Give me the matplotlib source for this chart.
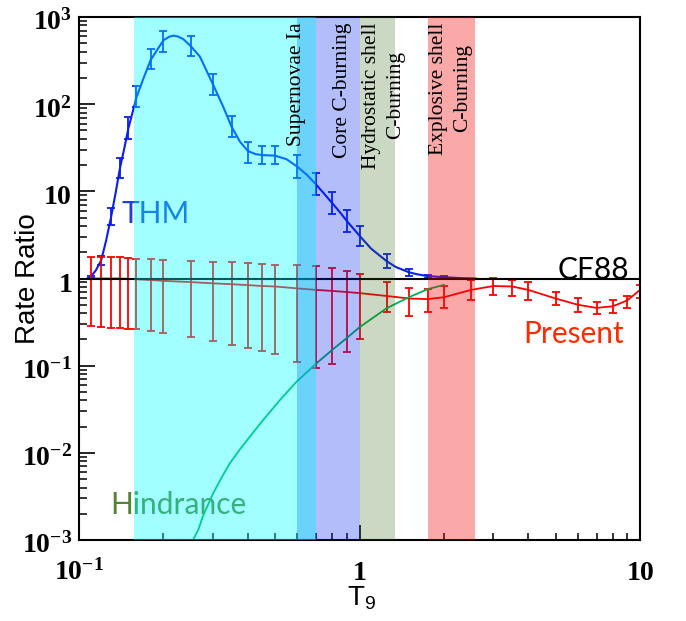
import matplotlib
matplotlib.use("Agg")
import matplotlib.pyplot as plt
import matplotlib.transforms as mtransforms
from matplotlib.ticker import FixedLocator, LogLocator, FuncFormatter, NullFormatter
import math

plt.rcParams['mathtext.fontset'] = 'custom'
plt.rcParams['mathtext.rm'] = 'Liberation Serif:bold'
plt.rcParams['mathtext.bf'] = 'Liberation Serif:bold'
plt.rcParams['mathtext.it'] = 'Liberation Serif:bold'
plt.rcParams['mathtext.sf'] = 'Liberation Sans'

# THM points (T9, ratio to CF88, multiplicative error)
thm_t = [0.11, 0.12, 0.13, 0.14, 0.15, 0.16, 0.18, 0.2, 0.25, 0.3, 0.35, 0.4,
         0.45, 0.5, 0.6, 0.7, 0.8, 0.9, 1.0, 1.25, 1.5, 1.75, 2.0]
thm_ratio = [1.04, 1.6, 5.1, 18.5, 53, 121, 330, 521, 465, 169, 55, 28,
             26, 26, 19.2, 12.1, 7.3, 4.58, 3.08, 1.59, 1.18, 1.06, 1.035]
thm_err = [1.02, 1.12, 1.25, 1.30, 1.33, 1.32, 1.31, 1.31, 1.31, 1.32, 1.32, 1.31,
           1.27, 1.27, 1.36, 1.34, 1.34, 1.33, 1.30, 1.19, 1.10, 1.035, 1.02]

# THM fitted curve
thm_curve_t = [0.107, 0.11, 0.112, 0.115, 0.12, 0.125, 0.13, 0.135, 0.14, 0.145, 0.15,
               0.155, 0.16, 0.17, 0.18, 0.19, 0.2, 0.21, 0.217, 0.225, 0.235, 0.25,
               0.27, 0.3, 0.325, 0.35, 0.375, 0.4, 0.425, 0.45, 0.5, 0.55, 0.6, 0.65,
               0.7, 0.75, 0.8, 0.85, 0.9, 0.95, 1.0, 1.1, 1.25, 1.35, 1.5, 1.6, 1.75,
               2.0, 2.3, 2.6]
thm_curve_r = [1.0, 1.04, 1.12, 1.25, 1.62, 2.75, 5.0, 9.5, 18.5, 31, 53,
               79, 118, 200, 320, 420, 540, 595, 611, 598, 560, 465,
               350, 170, 97, 55, 37, 29, 26.8, 26, 25.7, 23.3, 19.2, 15.4,
               12.0, 9.3, 7.3, 5.8, 4.6, 3.75, 3.1, 2.2, 1.58, 1.35, 1.18, 1.12, 1.065,
               1.035, 1.01, 1.0]

# Present work
present_t = [0.11, 0.12, 0.13, 0.14, 0.15, 0.16, 0.18, 0.2, 0.25, 0.3, 0.35, 0.4,
             0.45, 0.5, 0.6, 0.7, 0.8, 0.9, 1.0, 1.25, 1.5, 1.75, 2.0, 2.5, 3.0,
             3.5, 4.0, 5.0, 6.0, 7.0, 8.0, 9.0, 10.0]
present_ratio = [1.0, 1.0, 1.0, 1.0, 0.99, 0.98, 0.96, 0.94, 0.91, 0.88, 0.86, 0.84,
                 0.82, 0.81, 0.77, 0.74, 0.72, 0.70, 0.68, 0.63, 0.59, 0.58, 0.61, 0.74, 0.82,
                 0.81, 0.74, 0.59, 0.50, 0.46, 0.48, 0.56, 0.74]
present_lo = [0.286, 0.281, 0.273, 0.269, 0.264, 0.262, 0.251, 0.240, 0.212, 0.192, 0.173, 0.159,
              0.148, 0.135, 0.110, 0.095, 0.104, 0.143, 0.201, 0.417, 0.372, 0.417, 0.456, 0.569, 0.648,
              0.637, 0.569, 0.498, 0.417, 0.390, 0.400, 0.456, 0.60]
present_hi = [1.78, 1.78, 1.75, 1.75, 1.71, 1.68, 1.67, 1.63, 1.60, 1.56, 1.54, 1.52,
              1.47, 1.44, 1.43, 1.39, 1.31, 1.23, 1.13, 0.92, 0.77, 0.75, 0.81, 0.96, 1.01,
              0.96, 0.91, 0.70, 0.60, 0.54, 0.57, 0.63, 0.84]

# Hindrance model
hind_t = [0.255, 0.267, 0.277, 0.301, 0.323, 0.345, 0.375, 0.407, 0.454, 0.521, 0.597,
          0.713, 0.8, 0.9, 1.0, 1.25, 1.5, 1.75, 2.0]
hind_r = [0.001, 0.00134, 0.0019, 0.00345, 0.00526, 0.0076, 0.011, 0.0154, 0.0239, 0.0405,
          0.0657, 0.111, 0.152, 0.207, 0.276, 0.456, 0.61, 0.754, 0.845]

# temperature ranges of the burning sites
band_lo = [0.157, 0.6, 0.7, 1.0, 1.75]
band_hi = [0.6, 0.7, 1.0, 1.34, 2.58]
band_colors = ['#00ffff', '#00b4f8', '#0026ee', '#306410', '#f30606']
band_alpha = [0.37, 0.58, 0.30, 0.25, 0.35]
band_names = ['', 'Supernovae Ia', 'Core C-burning', 'Hydrostatic shell\nC-burning',
              'Explosive shell\nC-burning']
band_text_t = [None, 0.594, 0.871, 1.22, 2.11]

fig = plt.figure(figsize=(6.86, 6.21), dpi=100)
ax = fig.add_axes([79 / 686, 81 / 621, 561 / 686, 523 / 621])
ax.set_xscale('log')
ax.set_yscale('log')
ax.set_xlim(0.1, 10)
ax.set_ylim(1e-3, 1e3)

thm_lower = [r - r / f for r, f in zip(thm_ratio, thm_err)]
thm_upper = [r * f - r for r, f in zip(thm_ratio, thm_err)]
ax.plot(thm_curve_t, thm_curve_r, color='#0a1ef0', lw=1.5, zorder=2)
ax.errorbar(thm_t, thm_ratio, yerr=[thm_lower, thm_upper], fmt='none', ecolor='#0a1ef0',
            elinewidth=1.3, capsize=3, capthick=1.3, zorder=2)

pres_lower = [r - lo for r, lo in zip(present_ratio, present_lo)]
pres_upper = [hi - r for r, hi in zip(present_ratio, present_hi)]
ax.plot(present_t, present_ratio, color='#ff0000', lw=1.3, zorder=2)
ax.errorbar(present_t, present_ratio, yerr=[pres_lower, pres_upper], fmt='none',
            ecolor='#ff0000', elinewidth=1.3, capsize=3, capthick=1.3, zorder=2)

ax.plot(hind_t, hind_r, color='#00b050', lw=1.3, zorder=2)

ax.axhline(1.0, color='black', lw=1.5, zorder=2.2)

for lo, hi, c, a in zip(band_lo, band_hi, band_colors, band_alpha):
    ax.axvspan(lo, hi, color=c, alpha=a, lw=0, zorder=3)

trans = mtransforms.blended_transform_factory(ax.transData, ax.transAxes)
for name, t in zip(band_names, band_text_t):
    if name:
        ax.text(t, 0.99, name, transform=trans, rotation=90, ha='center', va='top',
                multialignment='center', linespacing=1.35, fontsize=15.5,
                family='Liberation Serif', zorder=4)

lab = dict(fontsize=21.5, family='Lato', zorder=2.3, va='baseline')
ax.text(0.0761, 0.606, 'THM', color='#1f3fd8', transform=ax.transAxes, ha='left', **lab)
ax.text(0.980, 0.499, 'CF88', color='black', transform=ax.transAxes, ha='right', **lab)
ax.text(0.9715, 0.376, 'Present', color='#ff2a00', transform=ax.transAxes, ha='right', **lab)
ax.text(0.0553, 0.050, 'Hindrance', color='#548235', transform=ax.transAxes, ha='left', **lab)


def tick_fmt(v, pos):
    e = int(round(math.log10(v)))
    if e == 0:
        return '$1$'
    if e == 1:
        return '$10$'
    return '$10^{%d}$' % e


ax.xaxis.set_major_locator(FixedLocator([0.1, 1, 10]))
ax.yaxis.set_major_locator(FixedLocator([1e-3, 1e-2, 1e-1, 1, 10, 100, 1000]))
ax.xaxis.set_minor_locator(LogLocator(base=10, subs=range(2, 10)))
ax.yaxis.set_minor_locator(LogLocator(base=10, subs=range(2, 10), numticks=20))
ax.xaxis.set_major_formatter(FuncFormatter(tick_fmt))
ax.yaxis.set_major_formatter(FuncFormatter(tick_fmt))
ax.xaxis.set_minor_formatter(NullFormatter())
ax.yaxis.set_minor_formatter(NullFormatter())

ax.tick_params(axis='y', which='major', direction='in', length=11.5, width=1.2,
               labelsize=20, pad=5, right=False)
ax.tick_params(axis='y', which='minor', direction='in', length=5.8, width=1.1, right=False)
ax.tick_params(axis='x', which='major', direction='in', length=11, width=1.2,
               labelsize=20, pad=28.8, top=False)
ax.tick_params(axis='x', which='minor', direction='in', length=5, width=1.1, top=False)

for lbl in ax.get_xticklabels():
    lbl.set_va('baseline')
shift = mtransforms.ScaledTranslation(0, -0.13, fig.dpi_scale_trans)
for tk in ax.yaxis.get_major_ticks():
    tk.label1.set_va('baseline')
    tk.label1.set_transform(tk.label1.get_transform() + shift)

for sp in ax.spines.values():
    sp.set_linewidth(1.5)

ax.set_ylabel('Rate Ratio', fontsize=20, family='Liberation Sans')
ax.yaxis.set_label_coords(-0.068, 0.5)
ax.set_xlabel(r'$\mathsf{T_9}$', fontsize=20)
ax.xaxis.set_label_coords(0.503, -0.085)

fig.savefig('out.png', dpi=100)
